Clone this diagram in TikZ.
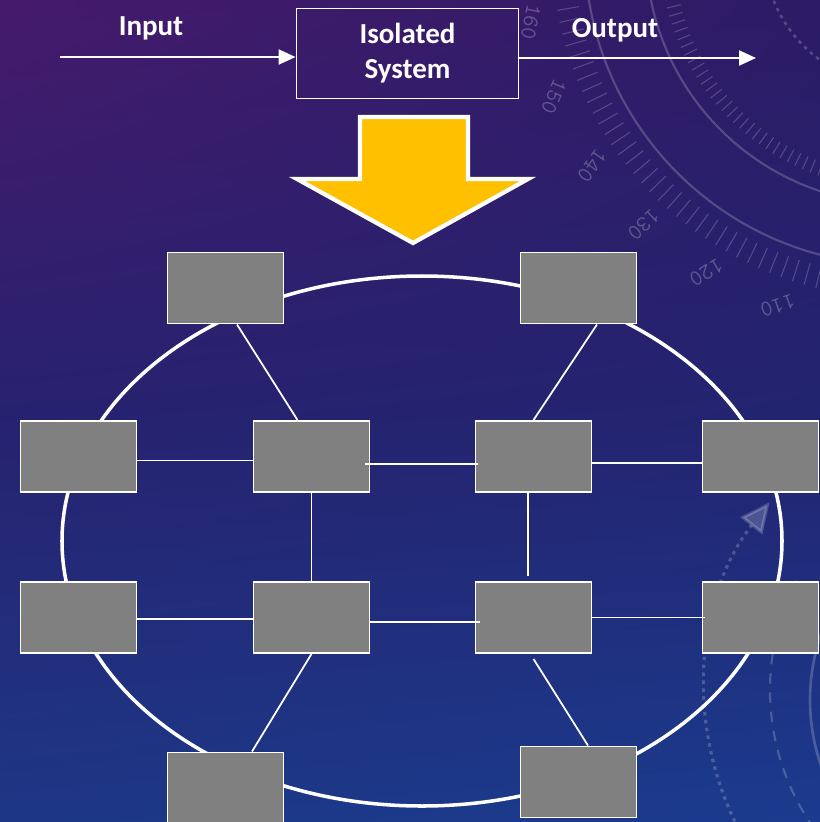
\documentclass[tikz,border=0pt]{standalone}
\usepackage{fontspec}
\setmainfont{Carlito}
\usetikzlibrary{arrows.meta,shadings}
\definecolor{cellgray}{HTML}{808080}
\definecolor{arrowgold}{HTML}{FFC000}
\definecolor{bgtl}{HTML}{461A6C}
\definecolor{bgtr}{HTML}{2C1B66}
\definecolor{bgml}{HTML}{27226F}
\definecolor{bgmr}{HTML}{232470}
\definecolor{bgbl}{HTML}{1D3786}
\definecolor{bgbr}{HTML}{1B3B8E}
\tikzset{
  cell/.style={draw=white, line width=1.1pt, fill=cellgray, minimum width=2.32cm, minimum height=1.42cm, inner sep=0pt},
  link/.style={white, line width=1pt},
  flow/.style={white, line width=1.3pt, -{Triangle[length=0.34cm,width=0.3cm]}},
  lbl/.style={text=white, font=\bfseries\fontsize{16.5}{20}\selectfont, align=center},
  decor/.style={white, opacity=0.2}
}

\begin{document}
\begin{tikzpicture}[x=0.02cm,y=-0.02cm]
    \useasboundingbox (0,0) rectangle (820,822);
    \clip (0,0) rectangle (820,822);
    \shade[upper left=bgtl, upper right=bgtr, lower left=bgml, lower right=bgmr] (0,0) rectangle (820,411);
    \shade[upper left=bgml, upper right=bgmr, lower left=bgbl, lower right=bgbr] (0,411) rectangle (820,822);

    \coordinate (dial) at (900,-50);
    \draw[decor, line width=1.2pt] (dial) ++(95:315) arc[start angle=95, end angle=185, radius=315];
    \draw[decor, line width=1.2pt] (dial) ++(95:254) arc[start angle=95, end angle=190, radius=254];
    \draw[decor, line width=1.5pt, dash pattern=on 2pt off 2.5pt] (dial) ++(90:136) arc[start angle=90, end angle=180, radius=136];
    \foreach \a in {100,102,...,178}
      \draw[decor, line width=0.6pt] (dial) ++(\a:326) -- ++(\a:22);
    \foreach \a in {96,98,...,178}
      \draw[decor, line width=0.6pt] (dial) ++(\a:226) -- ++(\a:14);
    \foreach \n in {110,120,...,160} {
      \pgfmathsetmacro{\ang}{109+1.2*(\n-110)}
      \path (dial) ++(\ang:376) node[decor, text opacity=0.25, font=\ttfamily\fontsize{13}{14}\selectfont, rotate=\ang+90] {\n};
    }

    \coordinate (orbit) at (1010,690);
    \draw[decor, line width=1.8pt, dash pattern=on 2pt off 2.5pt, -{Triangle[length=0.6cm,width=0.55cm]}] (orbit) ++(150:305) arc[start angle=150, end angle=218, radius=305];
    \draw[decor, line width=1.2pt, dash pattern=on 6pt off 5pt] (orbit) ++(140:240) arc[start angle=140, end angle=209, radius=240];
    \draw[decor, line width=1.5pt] (1010,700) ++(140:200) arc[start angle=140, end angle=220, radius=200];

    \node[lbl] (in) at (151,28) {Input};
    \node[lbl] (out) at (615,30) {Output};
    \node[lbl, draw=white, line width=1.1pt, minimum width=4.44cm, minimum height=1.8cm] (sys) at (407.5,53.5) {Isolated\\System};
    \coordinate (src) at (60,57);
    \coordinate (dst) at (756,58);
    \draw[flow] (src) -- (src -| sys.west);
    \draw[flow] (sys.east |- dst) -- (dst);

    \draw[white, line width=2.4pt, fill=arrowgold] (360,117) -- (468,117) -- (468,179) -- (528,179) -- (413,243) -- (297,179) -- (360,179) -- cycle;

    \draw[white, line width=2pt] (422,541) ellipse [x radius=360, y radius=265];

    \node[cell] (top1) at (225.5,288) {};
    \node[cell] (top2) at (578.5,288) {};
    \foreach \name/\x in {1/78.5,2/311.5,3/533.5,4/760.5} {
      \node[cell] (a\name) at (\x,456.5) {};
      \node[cell] (b\name) at (\x,617.5) {};
    }
    \node[cell] (bot1) at (225.5,788) {};
    \node[cell] (bot2) at (578.5,782) {};

    \draw[link] ([xshift=0.23cm]top1.south) -- ([xshift=-0.28cm]a2.north);
    \draw[link] ([xshift=0.37cm]top2.south) -- (a3.north);
    \draw[link] ([yshift=-0.08cm]a1.east) -- ([yshift=-0.08cm]a2.west);
    \draw[link] ([xshift=-0.1cm,yshift=-0.15cm]a2.east) -- ([xshift=0.06cm,yshift=-0.15cm]a3.west);
    \draw[link] ([yshift=-0.13cm]a3.east) -- ([yshift=-0.13cm]a4.west);
    \draw[link] (a2.south) -- (b2.north);
    \draw[link] ([xshift=-0.11cm]a3.south) -- ([xshift=-0.11cm,yshift=0.1cm]b3.north);
    \draw[link] ([yshift=-0.03cm]b1.east) -- ([yshift=-0.03cm]b2.west);
    \draw[link] ([yshift=-0.09cm]b2.east) -- ([xshift=0.1cm,yshift=-0.09cm]b3.west);
    \draw[link] (b3.east) -- ([xshift=0.06cm]b4.west);
    \draw[link] (b2.south) -- ([xshift=0.53cm]bot1.north);
    \draw[link] ([yshift=-0.1cm]b3.south) -- ([xshift=0.19cm]bot2.north);
\end{tikzpicture}
\end{document}
